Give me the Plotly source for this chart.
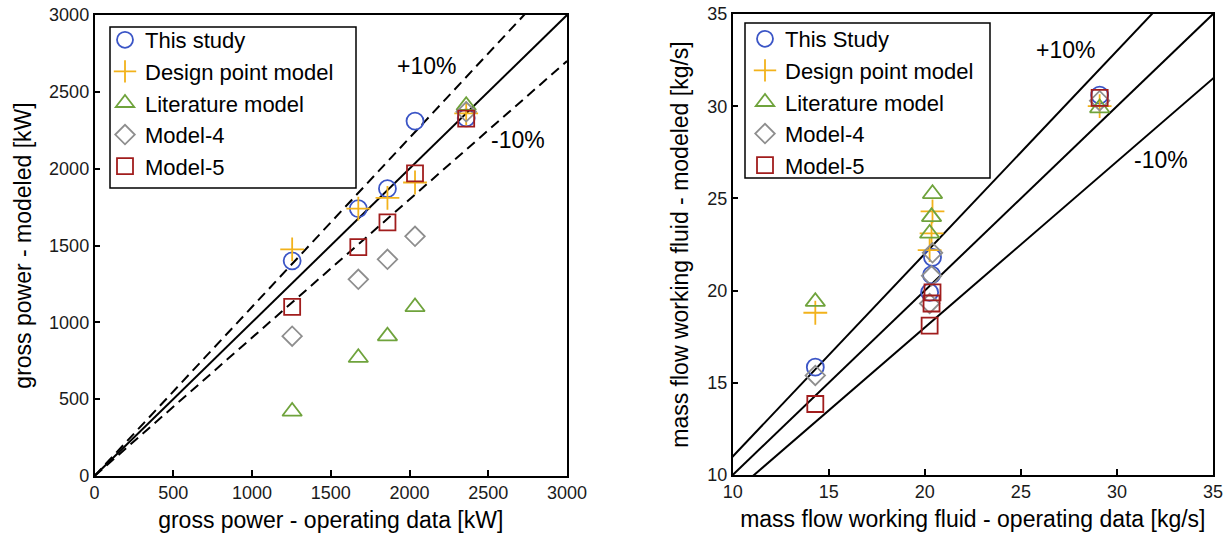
import plotly.graph_objects as go

# ---------------- data: left panel (gross power, kW) ----------------
power_operating = [1255, 1675, 1860, 2035, 2360]
power_this_study = [1400, 1740, 1870, 2310, 2330]
power_design_point = [1475, 1740, 1810, 1910, 2360]
power_literature = [420, 770, 910, 1100, 2410]
power_model4 = [910, 1280, 1410, 1560, 2370]
power_model5 = [1100, 1490, 1650, 1970, 2325]

# ---------------- data: right panel (mass flow, kg/s) ----------------
flow_operating = [14.3, 20.4, 20.35, 20.25, 29.1]
flow_this_study = [15.85, 21.8, 20.85, 19.9, 30.6]
flow_design_point = [18.8, 24.3, 23.1, 22.2, 30.0]
flow_literature = [19.4, 25.25, 24.0, 23.1, 29.9]
flow_model4 = [15.4, 22.05, 20.8, 19.3, 30.3]
flow_model5 = [13.85, 19.9, 19.3, 18.1, 30.45]

# reference lines (parity and +/-10 %)
power_line_x = [0, 3000]
flow_line_x = [0, 40]
ratios = [1.0, 1.1, 0.9]

power_ticks = [0, 500, 1000, 1500, 2000, 2500, 3000]
flow_ticks = [10, 15, 20, 25, 30, 35]

FONT = "Liberation Sans, Arial, sans-serif"
BLUE = "#3b55c6"
GOLD = "#f2b21b"
GREEN = "#6fa33c"
GRAY = "#8e8e8e"
RED = "#a11d1d"

series_style = [
    ("circle-open", BLUE, 17),
    ("cross-thin-open", GOLD, 17),
    ("triangle-up-open", GREEN, 17),
    ("diamond-open", GRAY, 15),
    ("square-open", RED, 16),
]

fig = go.Figure()

# reference lines left (solid parity, dashed +/-10%)
for r in ratios:
    fig.add_trace(go.Scatter(
        x=power_line_x, y=[v * r for v in power_line_x], mode="lines",
        line=dict(color="black", width=2, dash="solid" if r == 1.0 else "10px,6px"),
        showlegend=False, hoverinfo="skip", xaxis="x", yaxis="y"))

# reference lines right (all solid)
for r in ratios:
    fig.add_trace(go.Scatter(
        x=flow_line_x, y=[v * r for v in flow_line_x], mode="lines",
        line=dict(color="black", width=2),
        showlegend=False, hoverinfo="skip", xaxis="x2", yaxis="y2"))

left_names = ["This study", "Design point model", "Literature model", "Model-4", "Model-5"]
left_vals = [power_this_study, power_design_point, power_literature, power_model4, power_model5]
right_names = ["This Study", "Design point model", "Literature model", "Model-4", "Model-5"]
right_vals = [flow_this_study, flow_design_point, flow_literature, flow_model4, flow_model5]

for (sym, col, size), name, vals in zip(series_style, left_names, left_vals):
    fig.add_trace(go.Scatter(
        x=power_operating, y=vals, mode="markers", name=name,
        marker=dict(symbol=sym, size=size, color=col, line=dict(color=col, width=1.8)),
        xaxis="x", yaxis="y", legend="legend"))

for (sym, col, size), name, vals in zip(series_style, right_names, right_vals):
    fig.add_trace(go.Scatter(
        x=flow_operating, y=vals, mode="markers", name=name,
        marker=dict(symbol=sym, size=size, color=col, line=dict(color=col, width=1.8)),
        xaxis="x2", yaxis="y2", legend="legend2"))

axis_common = dict(
    showline=True, linecolor="black", linewidth=1.5, mirror=True,
    ticks="inside", ticklen=6, tickwidth=1.5, tickcolor="black",
    showgrid=False, zeroline=False, automargin=False,
    tickfont=dict(family=FONT, size=18, color="#1a1a1a"),
    title_font=dict(family=FONT, size=23, color="black"),
)

W, H = 1227, 543
TXT = 23
LEG = 22


def px_box(x0, x1, y0, y1):
    """legend frame given in pixel positions of the page"""
    return dict(type="rect", xref="paper", yref="paper",
                x0=x0 / W, x1=x1 / W, y0=1 - y1 / H, y1=1 - y0 / H,
                line=dict(color="black", width=1.5), fillcolor="white", layer="above")


fig.update_layout(
    width=W, height=H,
    margin=dict(l=0, r=0, t=0, b=0),
    paper_bgcolor="white", plot_bgcolor="white",
    font=dict(family=FONT, color="black"),
    xaxis=dict(domain=[94.5 / W, 567 / W], range=[0, 3000], tickvals=power_ticks,
               title=dict(text="gross power - operating data [kW]", standoff=10),
               anchor="y", **axis_common),
    yaxis=dict(domain=[1 - 476 / H, 1 - 15 / H], range=[0, 3000], tickvals=power_ticks,
               title=dict(text="gross power - modeled [kW]", standoff=11),
               anchor="x", **axis_common),
    xaxis2=dict(domain=[732.7 / W, 1213 / W], range=[10, 35], tickvals=flow_ticks,
                title=dict(text="mass flow working fluid - operating data [kg/s]", standoff=10),
                anchor="y2", **axis_common),
    yaxis2=dict(domain=[1 - 475 / H, 1 - 14 / H], range=[10, 35], tickvals=flow_ticks,
                title=dict(text="mass flow working fluid - modeled [kg/s]", standoff=12),
                anchor="x2", **axis_common),
    legend=dict(x=105 / W, y=1 - 19 / H, xanchor="left", yanchor="top",
                borderwidth=0, bgcolor="rgba(0,0,0,0)",
                font=dict(family=FONT, size=LEG, color="black"), itemwidth=30),
    legend2=dict(x=745 / W, y=1 - 18 / H, xanchor="left", yanchor="top",
                 borderwidth=0, bgcolor="rgba(0,0,0,0)",
                 font=dict(family=FONT, size=LEG, color="black"), itemwidth=30),
    shapes=[px_box(110, 356, 27, 188), px_box(745, 990, 23, 178)],
    annotations=[
        dict(x=2110, y=2668, xref="x", yref="y", text="+10%", showarrow=False,
             font=dict(family=FONT, size=TXT, color="black")),
        dict(x=2690, y=2187, xref="x", yref="y", text="-10%", showarrow=False,
             font=dict(family=FONT, size=TXT, color="black")),
        dict(x=27.3, y=33.05, xref="x2", yref="y2", text="+10%", showarrow=False,
             font=dict(family=FONT, size=TXT, color="black")),
        dict(x=32.28, y=27.08, xref="x2", yref="y2", text="-10%", showarrow=False,
             font=dict(family=FONT, size=TXT, color="black")),
    ],
)

fig.write_html("out.html")
